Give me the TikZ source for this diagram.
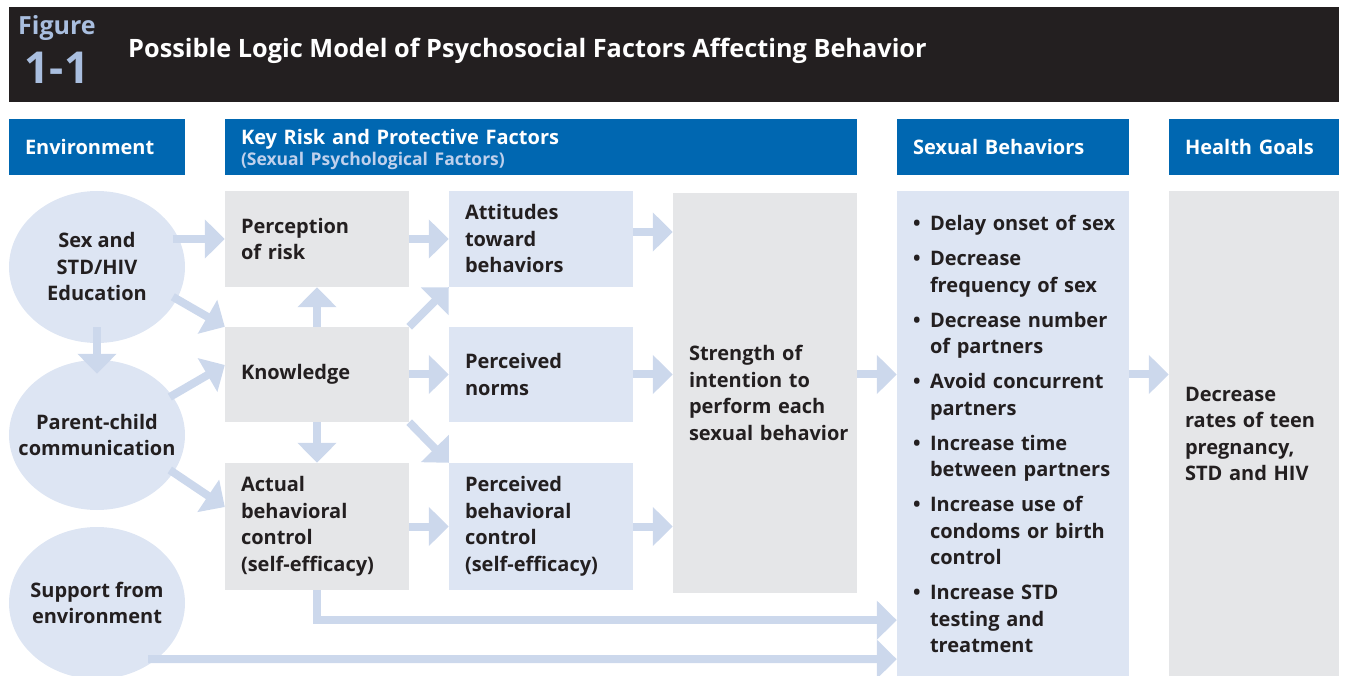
\documentclass[tikz,border=0pt]{standalone}
\usepackage{fontspec}
\setmainfont{Open Sans}
\usetikzlibrary{arrows.meta}
\usetikzlibrary{shapes.geometric}

\definecolor{barblack}{HTML}{231F20}
\definecolor{hdblue}{HTML}{0067B1}
\definecolor{figblue}{HTML}{A9BEDF}
\definecolor{subblue}{HTML}{BFD0EC}
\definecolor{paleblue}{HTML}{DDE5F3}
\definecolor{palegray}{HTML}{E5E6E8}
\definecolor{arrowblue}{HTML}{CCD8EC}
\definecolor{inkgray}{HTML}{231F20}

% bullet items with a hanging indent
\newcommand{\bitem}{\makebox[17pt][l]{\textbullet}}
\newcommand{\bcont}{\hspace*{17pt}}

\begin{document}
\begin{tikzpicture}[x=1pt, y=-1pt,
    bodytext/.style={font=\bfseries\fontsize{20}{26.5}\selectfont, text=inkgray},
    headbox/.style={rectangle, fill=hdblue, text=white, font=\bfseries\fontsize{20}{21}\selectfont,
        minimum height=56pt, inner xsep=16pt, inner ysep=0pt, align=left},
    greybox/.style={bodytext, rectangle, fill=palegray, inner xsep=16pt, inner ysep=0pt,
        text width=152pt, align=left},
    bluebox/.style={greybox, fill=paleblue},
    envcircle/.style={bodytext, ellipse, fill=paleblue, minimum width=176pt,
        minimum height=152pt, inner xsep=-25pt, inner ysep=0pt, align=center},
    flow/.style={draw=arrowblue, line width=8pt, -{Triangle[length=20pt,width=38pt]}}]
    \useasboundingbox (0,0) rectangle (1353,676);

    % title bar
    \node[fill=barblack, minimum width=1330pt, minimum height=95pt, inner sep=0pt, anchor=north west] (bar) at (9,7) {};
    \node[anchor=base, text=figblue, font=\bfseries\fontsize{25}{25}\selectfont] (figword) at (57,35) {Figure};
    \node[anchor=base, text=figblue, font=\bfseries\fontsize{44}{44}\selectfont] (fignum) at (57,84) {1-1};
    \node[anchor=base west, inner sep=0pt, text=white, font=\bfseries\fontsize{25.3}{25}\selectfont] (title) at (128,58)
        {Possible Logic Model of Psychosocial Factors Affecting Behavior};

    % column heads
    \node[headbox, minimum width=176pt, text width=144pt] (envhd) at (97,147) {Environment};
    \node[headbox, minimum width=632pt, text width=600pt] (riskhd) at (541,147)
        {\rule{0pt}{21pt}Key Risk and Protective Factors\\{\fontsize{17.5}{18}\selectfont\color{subblue}(Sexual Psychological Factors)}};
    \node[headbox, minimum width=232pt, text width=200pt] (sexhd) at (1013,147) {Sexual Behaviors};
    \node[headbox, minimum width=170pt, text width=138pt] (goalhd) at (1254,147) {Health Goals};

    % environment
    \node[envcircle] (sex) at (97,267) {Sex and\\STD/HIV\\Education};
    \node[envcircle, minimum height=150pt] (parent) at (97,435) {Parent-child\\communication};
    \node[envcircle] (support) at (97,603) {Support from\\environment};

    % risk and protective factors
    \node[greybox, minimum height=96pt] (percep) at (317,239) {Perception\\of risk};
    \node[greybox, minimum height=95pt] (knowl) at (317,374.5) {Knowledge};
    \node[greybox, minimum height=127pt] (actual) at (317,526.5) {Actual\\behavioral\\control\\(self-efficacy)};
    \node[bluebox, minimum height=96pt] (attit) at (541,239) {Attitudes\\toward\\behaviors};
    \node[bluebox, minimum height=95pt] (norms) at (541,374.5) {Perceived\\norms};
    \node[bluebox, minimum height=127pt] (pbc) at (541,526.5) {Perceived\\behavioral\\control\\(self-efficacy)};
    \node[greybox, minimum height=400pt] (intent) at (765,393)
        {Strength of\\intention to\\perform each\\\mbox{sexual behavior}};

    % behaviors and goals
    \node[bluebox, minimum height=486pt, text width=200pt] (behav) at (1013,434)
        {\bitem\mbox{Delay onset of sex}\\[8.5pt]
         \bitem Decrease\\ \bcont\mbox{frequency of sex}\\[8.5pt]
         \bitem\mbox{Decrease number}\\ \bcont of partners\\[8.5pt]
         \bitem\mbox{Avoid concurrent}\\ \bcont partners\\[8.5pt]
         \bitem Increase time\\ \bcont\mbox{between partners}\\[8.5pt]
         \bitem\mbox{Increase use of}\\ \bcont\mbox{condoms or birth}\\ \bcont control\\[8.5pt]
         \bitem Increase STD\\ \bcont testing and\\ \bcont treatment};
    \node[greybox, minimum height=486pt, text width=138pt] (goals) at (1254,434)
        {Decrease\\rates of teen\\pregnancy,\\STD and HIV};

    % arrows
    \draw[flow] ([xshift=-52pt]percep.west) -- (percep.west);
    \draw[flow] ([xshift=-52pt,yshift=30pt]knowl.north west) -- (knowl.north west);
    \draw[flow] ([yshift=16pt]sex.south) -- ([yshift=-14pt]parent.north);
    \draw[flow] ([xshift=-55pt,yshift=-22.5pt]knowl.west) -- ([yshift=9.5pt]knowl.west);
    \draw[flow] ([xshift=-55pt,yshift=56.5pt]actual.west) -- ([yshift=19.5pt]actual.west);
    \draw[flow] (knowl.north) -- (percep.south);
    \draw[flow] (knowl.south) -- (actual.north);
    \draw[flow] (knowl.north east) -- (attit.south west);
    \draw[flow] (knowl.south east) -- (pbc.north west);
    \draw[flow] (percep.east) -- (attit.west);
    \draw[flow] (knowl.east) -- (norms.west);
    \draw[flow] (actual.east) -- (pbc.west);
    \draw[flow] ([yshift=7pt]attit.east) -- ([yshift=7pt]attit.east -| intent.west);
    \draw[flow] (norms.east) -- (norms.east -| intent.west);
    \draw[flow] (pbc.east) -- (pbc.east -| intent.west);
    \draw[flow] (norms.east -| intent.east) -- (norms.east -| behav.west);
    \draw[flow] (norms.east -| behav.east) -- (norms.east -| goals.west);
    \draw[flow] (actual.south) |- ([yshift=57pt]behav.south west);
    \draw[flow] ([xshift=51pt,yshift=-56pt]support.center) -- ([yshift=18pt]behav.south west);
\end{tikzpicture}
\end{document}
